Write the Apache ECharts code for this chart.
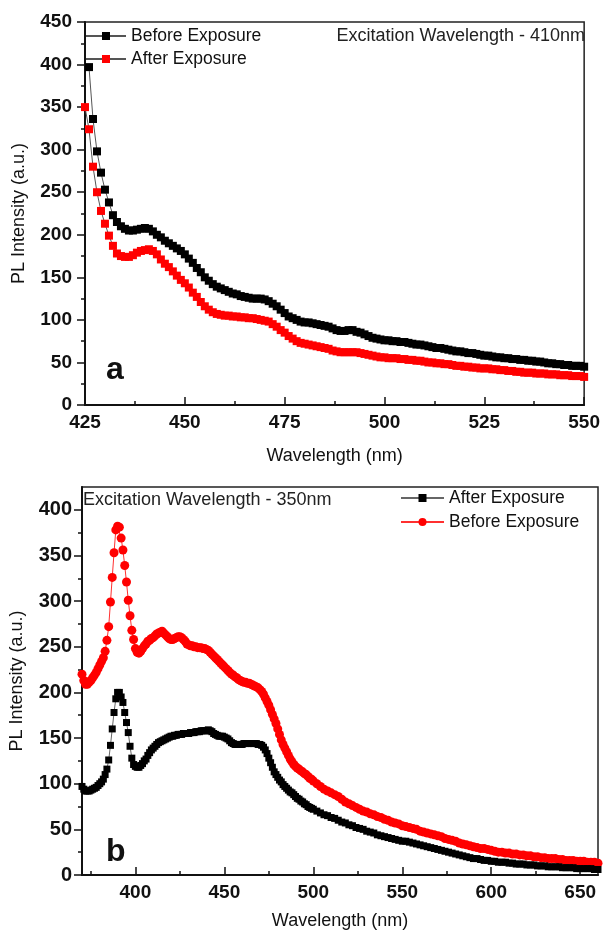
<!DOCTYPE html>
<html><head><meta charset="utf-8">
<script src="https://cdn.jsdelivr.net/npm/echarts@6/dist/echarts.min.js"></script>
<style>
html,body{margin:0;padding:0;background:#fff;width:603px;height:935px;overflow:hidden}
#a{position:absolute;left:0;top:0;width:603px;height:470px}
#b{position:absolute;left:0;top:470px;width:603px;height:465px}
</style>
</head><body><div id="a"></div><div id="b"></div>
<script>
// ---------- DATA ----------
// Panel a (excitation 410 nm): wavelength grid starts, 1 nm step
const topBeforeStart = 426, topAfterStart = 425, topEnd = 550;
const topBefore = [
397,336,298,273,253,238,223,215,210,207,
205,205,206,207,208,207,204,200,197,193,
190,187,184,181,177,172,167,161,156,150,
146,142,139,137,135,133,131,130,128,127,
126,125,125,125,124,122,119,116,112,108,
104,102,100,98,97,97,96,95,94,93,
92,90,88,87,87,88,88,86,85,83,
81,79,78,77,76,76,75,75,74,74,
73,72,71,71,70,69,68,67,67,66,
65,64,63,63,62,61,61,60,59,58,
58,57,56,56,55,55,54,54,53,53,
52,52,51,51,50,49,49,48,48,47,
47,46,46,46,45];
const topAfter = [
350,324,280,250,228,213,199,187,178,175,
174,174,176,179,181,182,183,181,177,171,
166,162,157,152,147,143,138,132,127,121,
116,112,109,107,106,105,105,104,104,103,
103,102,102,101,100,99,98,95,92,88,
85,81,78,75,73,72,71,70,69,68,
67,66,64,63,62,62,62,62,62,61,
60,59,58,57,56,56,55,55,55,54,
54,53,53,52,52,51,50,50,49,49,
48,48,47,46,46,45,45,44,44,43,
43,43,42,42,41,41,40,40,39,39,
38,38,38,37,37,37,36,36,36,35,
35,35,34,34,34,33];

// Panel b (excitation 350 nm): 1 nm step 370-500, 2 nm step 502-660
const botFineStart = 370, botFineEnd = 500, botCoarseStart = 502, botCoarseEnd = 660;
const botAfter = [
97,94,92,92,92,93,94,95,96,98,
100,102,105,110,116,126,142,160,178,193,
200,200,195,189,178,167,156,141,128,121,
119,118,118,120,122,125,127,131,134,137,
139,141,143,145,146,147,148,149,150,151,
152,152,153,153,154,154,154,155,155,155,
155,156,156,156,157,157,157,158,158,158,
158,159,158,157,155,154,153,152,152,152,
151,150,149,147,145,144,143,143,143,143,
143,144,144,144,144,144,144,144,144,143,
143,142,140,137,133,128,123,118,113,110,
107,104,102,99,97,95,93,91,90,88,
86,84,83,81,80,78,77,75,74,73,
72,
70,68,66,65,63,62,60,58,57,55,
54,52,51,50,48,47,46,44,43,42,
41,40,39,38,37,37,36,35,34,33,
32,31,30,29,28,27,26,25,24,23,
22,21,20,19,18,18,17,16,16,15,
15,14,14,14,13,13,12,12,12,11,
11,11,10,10,10,9,9,9,9,8,
8,8,8,7,7,7,7,7,6,6];
const botBefore = [
220,213,209,209,211,213,216,219,222,226,
230,234,238,245,257,272,299,326,353,378,
382,381,369,356,339,321,301,284,268,258,
248,244,243,245,248,251,253,256,257,259,
260,262,264,265,266,267,265,263,261,259,
258,258,259,260,261,261,260,258,256,253,
252,251,251,250,250,249,249,249,248,248,
247,246,244,242,240,238,236,234,232,230,
228,226,224,222,220,219,217,216,214,213,
212,211,211,210,210,209,208,207,206,205,
203,201,198,194,190,186,181,176,171,166,
160,154,148,143,139,135,131,127,124,121,
119,117,116,114,113,111,110,108,106,105,
103,
100,97,94,92,90,88,86,83,80,78,
76,74,72,70,69,67,66,64,63,61,
60,58,57,56,54,53,52,51,50,48,
47,46,45,44,43,42,40,39,38,37,
35,34,33,32,31,30,29,29,28,27,
26,25,25,24,24,23,23,22,22,21,
21,20,20,19,19,18,18,18,17,17,
16,16,16,15,15,15,14,14,14,13];
const botXTicks = [400,450,500,550,600,650];
const botXMinor = [375,425,475,525,575,625];
const botYTicks = [0,50,100,150,200,250,300,350,400];
const botYMinor = [25,75,125,175,225,275,325,375];

// ---------- helpers ----------
function seq(a, b, s) { const r = []; for (let v = a; v <= b; v += s) r.push(v); return r; }
function pairs(xs, ys) { return ys.map((v, i) => [xs[i], v]); }
const FONT = "'Liberation Sans', Arial, sans-serif";
const INK = '#111';

const topBeforeWl = seq(topBeforeStart, topEnd, 1);
const topAfterWl = seq(topAfterStart, topEnd, 1);
const botWl = seq(botFineStart, botFineEnd, 1).concat(seq(botCoarseStart, botCoarseEnd, 2));

const lineAx = {show: true, onZero: false, lineStyle: {color: INK, width: 2}};
const tickLS = {color: INK, width: 1.5};
const boldLbl = (size, margin) => ({fontSize: size, fontWeight: 'bold', color: INK, fontFamily: FONT, margin: margin});

// ---------- panel a ----------
const ca = echarts.init(document.getElementById('a'), null, {renderer: 'canvas'});
ca.setOption({
  animation: false,
  grid: {left: 85, top: 22, width: 502, height: 383, show: true, borderColor: '#222', borderWidth: 1.5, backgroundColor: 'transparent'},
  legend: {
    orient: 'vertical', left: 85, top: 27, padding: 0, itemWidth: 40, itemHeight: 10, itemGap: 5, selectedMode: false,
    textStyle: {fontSize: 17.5, lineHeight: 18, color: INK, fontFamily: FONT},
    data: ['Before Exposure', 'After Exposure']
  },
  xAxis: {
    type: 'value', min: 425, max: 550, interval: 25,
    axisLine: lineAx, splitLine: {show: false},
    axisTick: {inside: true, length: 8, lineStyle: tickLS},
    minorTick: {show: true, splitNumber: 2, length: 4, lineStyle: tickLS},
    axisLabel: boldLbl(19, 8),
    name: 'Wavelength (nm)', nameLocation: 'middle', nameGap: 42,
    nameTextStyle: {fontSize: 18, color: INK, fontFamily: FONT}
  },
  yAxis: {
    type: 'value', min: 0, max: 450, interval: 50,
    axisLine: lineAx, splitLine: {show: false},
    axisTick: {inside: false, length: 8, lineStyle: tickLS},
    minorTick: {show: true, splitNumber: 2, length: 4, lineStyle: tickLS},
    axisLabel: boldLbl(19, 13),
    name: 'PL Intensity (a.u.)', nameLocation: 'middle', nameGap: 57, nameRotate: 90,
    nameTextStyle: {fontSize: 18, color: INK, fontFamily: FONT}
  },
  graphic: [
    {type: 'text', x: 585, y: 36, silent: true, style: {text: 'Excitation Wavelength - 410nm', fill: '#222', font: '18px ' + FONT, textAlign: 'right', textVerticalAlign: 'middle'}},
    {type: 'text', x: 106, y: 370, silent: true, style: {text: 'a', fill: INK, font: 'bold 32px ' + FONT, textAlign: 'left', textVerticalAlign: 'middle'}}
  ],
  series: [
    {name: 'Before Exposure', type: 'line', data: pairs(topBeforeWl, topBefore), symbol: 'rect', symbolSize: 8,
     showAllSymbol: true, itemStyle: {color: '#000'}, lineStyle: {color: '#555', width: 1}, emphasis: {disabled: true}, z: 3},
    {name: 'After Exposure', type: 'line', data: pairs(topAfterWl, topAfter), symbol: 'rect', symbolSize: 8,
     showAllSymbol: true, itemStyle: {color: '#ff0000'}, lineStyle: {color: '#555', width: 1}, emphasis: {disabled: true}, z: 2}
  ]
});

// ---------- panel b ----------
const cb = echarts.init(document.getElementById('b'), null, {renderer: 'canvas'});
cb.setOption({
  animation: false,
  grid: {left: 82, top: 17, right: 5, height: 395, show: true, borderColor: '#222', borderWidth: 1.5, backgroundColor: 'transparent'},
  legend: {
    orient: 'vertical', left: 400, top: 19, padding: 0, itemWidth: 43, itemHeight: 10, itemGap: 6, selectedMode: false,
    textStyle: {fontSize: 17.5, lineHeight: 18, color: INK, fontFamily: FONT},
    data: ['After Exposure', 'Before Exposure']
  },
  xAxis: [
    {type: 'value', min: 370, max: 660, position: 'bottom',
     axisLine: lineAx, splitLine: {show: false},
     axisTick: {inside: true, length: 8, lineStyle: tickLS, customValues: botXTicks},
     axisLabel: Object.assign(boldLbl(19, 8), {customValues: botXTicks}),
     name: 'Wavelength (nm)', nameLocation: 'middle', nameGap: 37,
     nameTextStyle: {fontSize: 18, color: INK, fontFamily: FONT}},
    {type: 'value', min: 370, max: 660, position: 'bottom',
     axisLine: {show: false}, splitLine: {show: false}, axisLabel: {show: false},
     axisTick: {inside: true, length: 4, lineStyle: tickLS, customValues: botXMinor}}
  ],
  yAxis: [
    {type: 'value', min: 0, max: 425, position: 'left',
     axisLine: lineAx, splitLine: {show: false},
     axisTick: {inside: false, length: 8, lineStyle: tickLS, customValues: botYTicks},
     axisLabel: Object.assign(boldLbl(20, 10), {customValues: botYTicks}),
     name: 'PL Intensity (a.u.)', nameLocation: 'middle', nameGap: 56, nameRotate: 90,
     nameTextStyle: {fontSize: 18, color: INK, fontFamily: FONT}},
    {type: 'value', min: 0, max: 425, position: 'left',
     axisLine: {show: false}, splitLine: {show: false}, axisLabel: {show: false},
     axisTick: {inside: false, length: 4, lineStyle: tickLS, customValues: botYMinor}}
  ],
  graphic: [
    {type: 'text', x: 83, y: 30, silent: true, style: {text: 'Excitation Wavelength - 350nm', fill: '#222', font: '18px ' + FONT, textAlign: 'left', textVerticalAlign: 'middle'}},
    {type: 'text', x: 106, y: 382, silent: true, style: {text: 'b', fill: INK, font: 'bold 32px ' + FONT, textAlign: 'left', textVerticalAlign: 'middle'}}
  ],
  series: [
    {name: 'After Exposure', type: 'line', xAxisIndex: 0, yAxisIndex: 0, data: pairs(botWl, botAfter), symbol: 'rect', symbolSize: 7,
     showAllSymbol: true, itemStyle: {color: '#000'}, lineStyle: {color: '#666', width: 1}, emphasis: {disabled: true}, z: 3},
    {name: 'Before Exposure', type: 'line', xAxisIndex: 0, yAxisIndex: 0, data: pairs(botWl, botBefore), symbol: 'circle', symbolSize: 9,
     showAllSymbol: true, itemStyle: {color: '#ff0000'}, lineStyle: {color: '#ff3030', width: 1}, emphasis: {disabled: true}, z: 2}
  ]
});
</script></body></html>
